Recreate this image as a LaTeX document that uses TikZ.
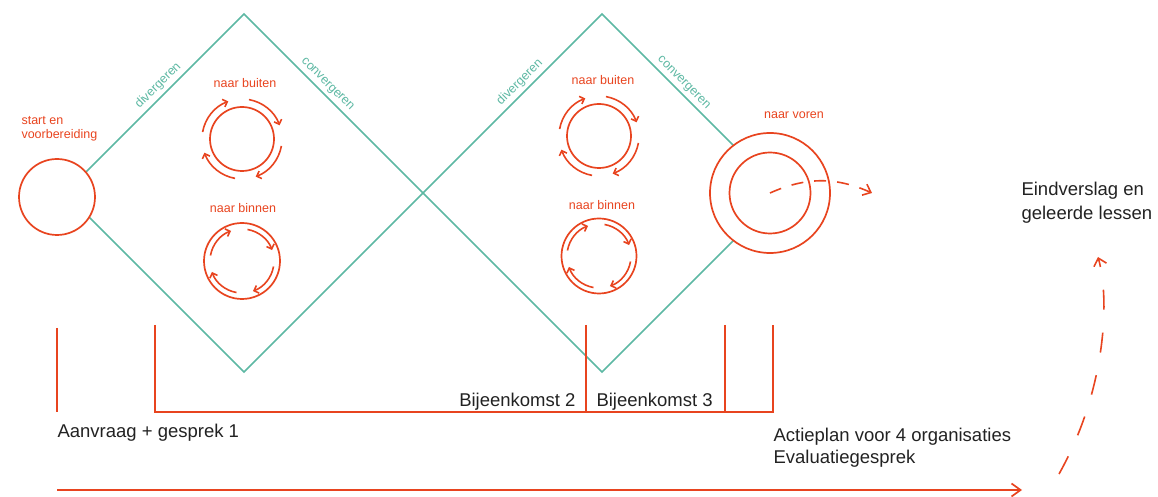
\documentclass[tikz,border=0pt]{standalone}
\usepackage{fontspec}
\setmainfont{Liberation Sans}
\usetikzlibrary{arrows.meta}
\definecolor{rood}{HTML}{E8441F}
\definecolor{groen}{HTML}{5DB8A3}
\definecolor{inkt}{HTML}{222222}

\begin{document}
\begin{tikzpicture} [x=1pt,y=1pt,
  ruit/.style= {draw=groen,line width=1.6pt},
  rondje/.style= {shape=circle,draw=rood,line width=1.7pt,fill=white,inner sep=0},
  lijn/.style= {draw=rood,line width=1.7pt},
  pijl/.style= {draw=rood,line width=1.6pt,-{Straight Barb[length=4pt,width=8pt]}},
  oranje/.style= {text=rood,font=\fontsize{12.5}{14.5}\selectfont},
  fase/.style= {text=groen,font=\fontsize{12.5}{15}\selectfont,sloped,above},
  tekst/.style= {text=inkt,font=\fontsize{18.5}{23}\selectfont}]
  \useasboundingbox (0,0) rectangle (1158,497);
  % Diamond 1
  \coordinate (1;l) at (65,304);
  \coordinate (1;t) at (244,483);
  \coordinate (1;r) at (423,304);
  \coordinate (1;b) at (244,125);
  \draw[ruit] (1;l) -- node[fase,pos=0.56] {divergeren} (1;t) -- node[fase,pos=0.43] {convergeren} (1;r) -- (1;b) -- cycle;
  % Diamond 2
  \coordinate (2;l) at (423,304);
  \coordinate (2;t) at (602,483);
  \coordinate (2;r) at (781,304);
  \coordinate (2;b) at (602,125);
  \draw[ruit] (2;l) -- node[fase,pos=0.58] {divergeren} (2;t) -- node[fase,pos=0.42] {convergeren} (2;r) -- (2;b) -- cycle;
  % Start and naar voren
  \node[rondje,minimum size=76pt] (start) at (57,300) { };
  \node[rondje,minimum size=120pt] (voren) at (770,304) { };
  \node[rondje,minimum size=81pt] (voren;in) at (770,304) { };
  \node[oranje,anchor=base west,align=left] (start;txt) at (18,358) {start en\\voorbereiding};
  \node[oranje,anchor=base] (voren;txt) at (794,378) {naar voren};
  \coordinate (voren;eind) at (872,304);
  \draw[pijl,dash pattern=on 12pt off 11pt,-{Straight Barb[length=7pt,width=12pt]}] (voren.center) to[bend left=24] (voren;eind);
  % Diamond 1 circles
  \node[rondje,minimum size=64pt] (1;uit) at (242,358) { };
  \node[rondje,minimum size=76pt] (1;in) at (242,236) { };
  \node[oranje,anchor=base] (1;uittxt) at (245,409) {naar buiten};
  \node[oranje,anchor=base] (1;intxt) at (243,284) {naar binnen};
  \draw[pijl] ([shift={(80:40)}]1;uit.center) arc[start angle=80,end angle=20,radius=40];
  \draw[pijl] ([shift={(-10:40)}]1;uit.center) arc[start angle=-10,end angle=-70,radius=40];
  \draw[pijl] ([shift={(-100:40)}]1;uit.center) arc[start angle=-100,end angle=-160,radius=40];
  \draw[pijl] ([shift={(170:40)}]1;uit.center) arc[start angle=170,end angle=110,radius=40];
  \draw[pijl] ([shift={(80:32)}]1;in.center) arc[start angle=80,end angle=20,radius=32];
  \draw[pijl] ([shift={(-10:32)}]1;in.center) arc[start angle=-10,end angle=-70,radius=32];
  \draw[pijl] ([shift={(-100:32)}]1;in.center) arc[start angle=-100,end angle=-160,radius=32];
  \draw[pijl] ([shift={(170:32)}]1;in.center) arc[start angle=170,end angle=110,radius=32];
  % Diamond 2 circles
  \node[rondje,minimum size=64pt] (2;uit) at (599,361) { };
  \node[rondje,minimum size=75pt] (2;in) at (599,241) { };
  \node[oranje,anchor=base] (2;uittxt) at (603,412) {naar buiten};
  \node[oranje,anchor=base] (2;intxt) at (602,287) {naar binnen};
  \draw[pijl] ([shift={(80:40)}]2;uit.center) arc[start angle=80,end angle=20,radius=40];
  \draw[pijl] ([shift={(-10:40)}]2;uit.center) arc[start angle=-10,end angle=-70,radius=40];
  \draw[pijl] ([shift={(-100:40)}]2;uit.center) arc[start angle=-100,end angle=-160,radius=40];
  \draw[pijl] ([shift={(170:40)}]2;uit.center) arc[start angle=170,end angle=110,radius=40];
  \draw[pijl] ([shift={(80:32)}]2;in.center) arc[start angle=80,end angle=20,radius=32];
  \draw[pijl] ([shift={(-10:32)}]2;in.center) arc[start angle=-10,end angle=-70,radius=32];
  \draw[pijl] ([shift={(-100:32)}]2;in.center) arc[start angle=-100,end angle=-160,radius=32];
  \draw[pijl] ([shift={(170:32)}]2;in.center) arc[start angle=170,end angle=110,radius=32];
  % Bijeenkomsten
  \coordinate (a;t) at (57,169);
  \coordinate (a;b) at (57,85);
  \coordinate (b1;t) at (155,172);
  \coordinate (b1;b) at (155,85);
  \coordinate (b2;t) at (586,172);
  \coordinate (b2;b) at (586,85);
  \coordinate (b3;t) at (725,172);
  \coordinate (b3;b) at (725,85);
  \coordinate (b4;t) at (773,172);
  \coordinate (b4;b) at (773,85);
  \draw[lijn] (a;t) -- (a;b);
  \draw[lijn] (b1;t) -- (b1;b) -- (b4;b) -- (b4;t);
  \draw[lijn] (b2;t) -- (b2;b);
  \draw[lijn] (b3;t) -- (b3;b);
  \node[tekst,anchor=base east] (bk2) at (579,90) {Bijeenkomst 2};
  \node[tekst,anchor=base west] (bk3) at (593,90) {Bijeenkomst 3};
  \node[tekst,anchor=base west] (aanvraag) at (54,59) {Aanvraag + gesprek 1};
  \node[tekst,anchor=base west,align=left,font=\fontsize{18.5}{22}\selectfont] (actieplan) at (770,33) {Actieplan voor 4 organisaties\\Evaluatiegesprek};
  \node[tekst,anchor=base west,align=left,font=\fontsize{18.5}{24}\selectfont] (eind) at (1018,277) {Eindverslag en\\geleerde lessen};
  % Tijdlijn
  \coordinate (tijd;begin) at (57,7);
  \coordinate (tijd;eind) at (1022,7);
  \draw[pijl,line width=1.7pt,-{Straight Barb[length=9pt,width=13pt]}] (tijd;begin) -- (tijd;eind);
  \coordinate (slot;begin) at (1059,23);
  \coordinate (slot;eind) at (1098,240);
  \draw[pijl,dash pattern=on 20pt off 23pt,-{Straight Barb[length=7pt,width=13pt]}] (slot;begin) .. controls (1106,107) and (1110,197) .. (slot;eind);
\end{tikzpicture}
\end{document}
